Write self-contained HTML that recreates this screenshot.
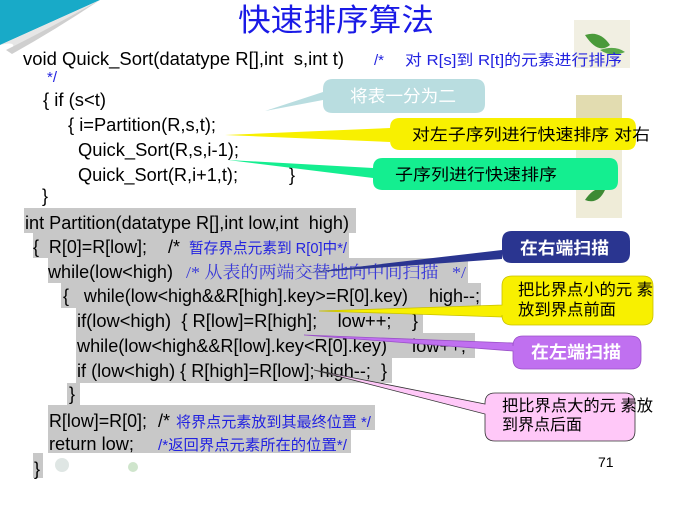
<!DOCTYPE html>
<html><head><meta charset="utf-8"><style>
html,body{margin:0;padding:0;background:#fff;}
svg{display:block;}
svg text{white-space:pre;}
.c{font-family:"Liberation Sans","Noto Sans CJK SC",sans-serif;font-size:18px;fill:#000;}
.b{font-family:"Liberation Sans","Noto Sans CJK SC",sans-serif;font-size:15px;fill:#2323e0;}
.s{font-family:"Liberation Serif","Noto Serif CJK SC",serif;font-size:17px;fill:#3a3ad8;}
.k{font-family:"Liberation Sans","Noto Sans CJK SC",sans-serif;font-size:16px;fill:#000;}
.w{font-family:"Liberation Sans","Noto Sans CJK SC",sans-serif;font-size:17px;fill:#fff;font-weight:bold;}
</style></head><body>
<svg width="680" height="506" viewBox="0 0 680 506" xmlns="http://www.w3.org/2000/svg" xml:space="preserve">
<polygon points="0,0 100,0 0,45" fill="#18aac8"/>
<path d="M100,0 Q60,25 10,52 Q20,40 0,45 Z" fill="#e6e6e6"/>
<path d="M100,0 Q55,30 12,54 L6,50 Q50,28 100,0Z" fill="#cfcfcf"/>
<rect x="574" y="20" width="56" height="48" fill="#f1efe2"/>
<path d="M585,35 Q600,30 610,45 Q598,55 585,35Z" fill="#4a9a3a"/>
<path d="M600,50 Q615,45 625,52 Q612,58 600,50Z" fill="#5aa84a"/>
<rect x="576" y="95" width="46" height="40" fill="#e2dcb0"/>
<rect x="576" y="150" width="46" height="68" fill="#efecd8"/>
<path d="M585,200 Q595,185 605,190 Q598,205 585,200Z" fill="#3d8a34"/>
<text x="238" y="31" font-family="Liberation Sans,Noto Sans CJK SC,sans-serif" font-size="31" fill="#1a1ae6" textLength="196" lengthAdjust="spacingAndGlyphs">快速排序算法</text>
<text class="c" x="23" y="65" textLength="321" lengthAdjust="spacingAndGlyphs">void Quick_Sort(datatype R[],int  s,int t)</text>
<text class="b" x="374" y="65">/*</text>
<text class="b" x="405" y="65" font-size="16" textLength="217" lengthAdjust="spacingAndGlyphs">对 R[s]到 R[t]的元素进行排序</text>
<text class="b" x="47" y="82">*/</text>
<text class="c" x="43" y="106" textLength="63" lengthAdjust="spacingAndGlyphs">{ if (s&lt;t)</text>
<text class="c" x="68" y="131" textLength="148" lengthAdjust="spacingAndGlyphs">{ i=Partition(R,s,t);</text>
<text class="c" x="78" y="156" textLength="161" lengthAdjust="spacingAndGlyphs">Quick_Sort(R,s,i-1);</text>
<text class="c" x="78" y="181" textLength="160" lengthAdjust="spacingAndGlyphs">Quick_Sort(R,i+1,t);</text>
<text class="c" x="289" y="181">}</text>
<text class="c" x="42" y="202">}</text>
<g fill="#c8c8c8">
<rect x="24" y="208" width="332" height="25"/>
<rect x="33" y="233" width="316" height="25"/>
<rect x="48" y="258" width="420" height="25"/>
<rect x="61" y="283" width="420" height="25"/>
<rect x="76" y="308" width="347" height="25"/>
<rect x="76" y="333" width="399" height="25"/>
<rect x="76" y="358" width="316" height="25"/>
<rect x="67" y="383" width="13" height="22"/>
<rect x="48" y="405" width="327" height="25"/>
<rect x="48" y="430" width="303" height="23"/>
<rect x="33" y="453" width="10" height="25"/>
</g>
<text class="c" x="25" y="229" textLength="324" lengthAdjust="spacingAndGlyphs">int Partition(datatype R[],int low,int  high)</text>
<text class="c" x="33" y="253" textLength="114" lengthAdjust="spacingAndGlyphs">{  R[0]=R[low];</text>
<text class="c" x="168" y="253">/*</text>
<text class="b" x="189" y="253" textLength="158" lengthAdjust="spacingAndGlyphs">暂存界点元素到 R[0]中*/</text>
<text class="c" x="48" y="278" textLength="125" lengthAdjust="spacingAndGlyphs">while(low&lt;high)</text>
<text class="s" x="186" y="278" textLength="280" lengthAdjust="spacingAndGlyphs">/* 从表的两端交替地向中间扫描   */</text>
<text class="c" x="63" y="302" textLength="345" lengthAdjust="spacingAndGlyphs">{   while(low&lt;high&amp;&amp;R[high].key&gt;=R[0].key)</text>
<text class="c" x="429" y="302" textLength="51" lengthAdjust="spacingAndGlyphs">high--;</text>
<text class="c" x="77" y="327" textLength="341" lengthAdjust="spacingAndGlyphs">if(low&lt;high)  { R[low]=R[high];    low++;    }</text>
<text class="c" x="77" y="352" textLength="310" lengthAdjust="spacingAndGlyphs">while(low&lt;high&amp;&amp;R[low].key&lt;R[0].key)</text>
<text class="c" x="412" y="352" textLength="54" lengthAdjust="spacingAndGlyphs">low++;</text>
<text class="c" x="77" y="377" textLength="310" lengthAdjust="spacingAndGlyphs">if (low&lt;high) { R[high]=R[low]; high--;  }</text>
<text class="c" x="69" y="400">}</text>
<text class="c" x="49" y="427" textLength="98" lengthAdjust="spacingAndGlyphs">R[low]=R[0];</text>
<text class="c" x="158" y="427">/*</text>
<text class="b" x="176" y="427" textLength="195" lengthAdjust="spacingAndGlyphs">将界点元素放到其最终位置 */</text>
<text class="c" x="49" y="450" textLength="85" lengthAdjust="spacingAndGlyphs">return low;</text>
<text class="b" x="158" y="450" textLength="189" lengthAdjust="spacingAndGlyphs">/*返回界点元素所在的位置*/</text>
<text class="c" x="34" y="475">}</text>
<circle cx="62" cy="465" r="7" fill="#dfe6e4"/>
<circle cx="133" cy="467" r="5" fill="#cfe5cc"/>
<text x="598" y="467" font-family="Liberation Sans,sans-serif" font-size="14" fill="#000">71</text>
<path d="M333,79 H475 Q485,79 485,89 V104 Q485,113 475,113 H333 Q323,113 323,104 V100 L265,111 L323,92 V89 Q323,79 333,79Z" fill="#b9dde0"/>
<text x="350" y="102" font-family="Liberation Sans,Noto Sans CJK SC,sans-serif" font-size="17" fill="#fff" textLength="106" lengthAdjust="spacingAndGlyphs">将表一分为二</text>
<path d="M400,118 H627 Q636,118 636,128 V140 Q636,150 627,150 H400 Q390,150 390,140 V142 L225,135 L390,128 Q390,118 400,118Z" fill="#f8f000"/>
<text class="k" x="412" y="140" textLength="238" lengthAdjust="spacingAndGlyphs">对左子序列进行快速排序 对右</text>
<path d="M383,158 H609 Q618,158 618,168 V181 Q618,190 609,190 H383 Q373,190 373,181 V178 L228,160 L373,168 Q373,158 383,158Z" fill="#14ee90"/>
<text class="k" x="395" y="180" textLength="162" lengthAdjust="spacingAndGlyphs">子序列进行快速排序</text>
<path d="M512,231 H620 Q630,231 630,241 V253 Q630,263 620,263 H512 Q502,263 502,253 V259 L304,273 L502,250 V241 Q502,231 512,231Z" fill="#2a3590"/>
<text class="w" x="520" y="254" textLength="89" lengthAdjust="spacingAndGlyphs">在右端扫描</text>
<path d="M512,276 H643 Q653,276 653,286 V315 Q653,325 643,325 H512 Q502,325 502,315 V317 L319,311 L502,305 V286 Q502,276 512,276Z" fill="#f8f000" stroke="#c8c000" stroke-width="0.8"/>
<text class="k" x="518" y="295" textLength="135" lengthAdjust="spacingAndGlyphs">把比界点小的元 素</text>
<text class="k" x="518" y="315" textLength="98" lengthAdjust="spacingAndGlyphs">放到界点前面</text>
<path d="M523,336 H631 Q641,336 641,346 V359 Q641,369 631,369 H523 Q513,369 513,359 V351 L304,335 L513,343 V346 Q513,336 523,336Z" fill="#c070f0" stroke="#9a50c8" stroke-width="0.8"/>
<text class="w" x="531" y="358" textLength="90" lengthAdjust="spacingAndGlyphs">在左端扫描</text>
<path d="M495,393 H625 Q635,393 635,403 V431 Q635,441 625,441 H495 Q485,441 485,431 V414 L314,370 L485,404 V403 Q485,393 495,393Z" fill="#ffc8f8" stroke="#333" stroke-width="0.8"/>
<text class="k" x="502" y="411" textLength="151" lengthAdjust="spacingAndGlyphs">把比界点大的元 素放</text>
<text class="k" x="502" y="430" textLength="80" lengthAdjust="spacingAndGlyphs">到界点后面</text>
</svg>
</body></html>
